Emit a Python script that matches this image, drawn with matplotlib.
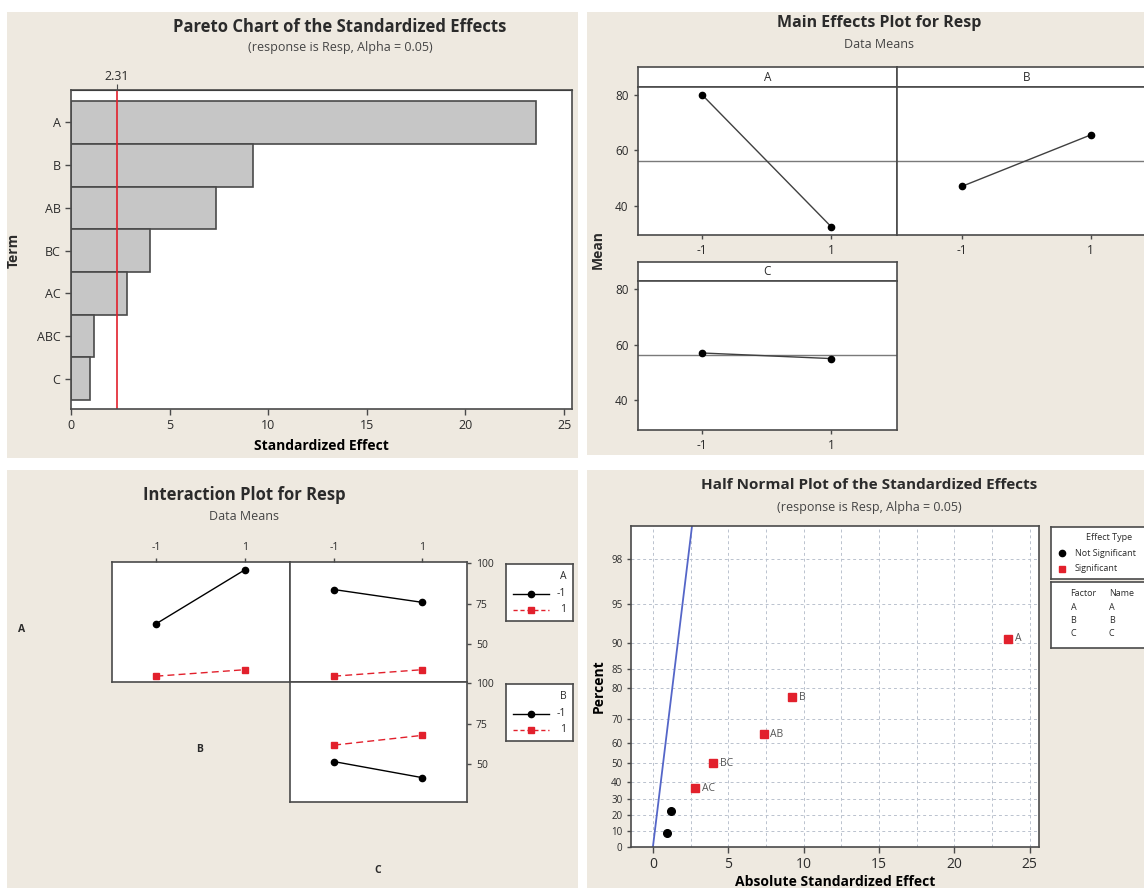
import matplotlib
matplotlib.use("Agg")
import matplotlib.pyplot as plt
from matplotlib.patches import Rectangle
from statistics import NormalDist

W, H = 1144, 888
BG = "#EEE9E0"
INK = "#2B2B2B"
EDGE = "#4A4A4A"
RED = "#E2202C"
BLUE = "#5566C8"

# Pareto chart of standardized effects
terms = ["A", "B", "AB", "BC", "AC", "ABC", "C"]
std_effects = [23.59, 9.24, 7.34, 4.01, 2.82, 1.19, 0.94]
t_crit = 2.31

# Main effects (data means at levels -1 / 1)
factors = ["A", "B", "C"]
levels = [-1, 1]
level_labels = ["-1", "1"]
mean_a = [80.0, 32.4]
mean_b = [46.9, 65.5]
mean_c = [57.0, 55.0]
grand_mean = 56.2

# Interaction means: x factor at -1 / 1, one list per level of the trace factor
ab_a_lo = [62.8, 96.1]
ab_a_hi = [30.4, 34.4]
ac_a_lo = [83.8, 75.9]
ac_a_hi = [30.4, 34.4]
bc_b_lo = [51.7, 41.8]
bc_b_hi = [61.9, 67.9]

# Half normal plot
half_terms = ["C", "ABC", "AC", "BC", "AB", "B", "A"]
half_effects = [0.94, 1.19, 2.82, 4.01, 7.34, 9.24, 23.59]
half_pct = [9.0, 22.7, 36.3, 50.0, 63.6, 77.3, 90.7]
pct_ticks = [0, 10, 20, 30, 40, 50, 60, 70, 80, 85, 90, 95, 98]
fit_slope = 1.0

plt.rcParams["font.family"] = ["Open Sans", "DejaVu Sans"]
plt.rcParams["text.color"] = INK
plt.rcParams["xtick.color"] = EDGE
plt.rcParams["ytick.color"] = EDGE
plt.rcParams["xtick.labelcolor"] = INK
plt.rcParams["ytick.labelcolor"] = INK


def px_axes(fig, x0, y0, x1, y1):
    return fig.add_axes([x0 / W, 1 - y1 / H, (x1 - x0) / W, (y1 - y0) / H])


def px_text(fig, x, y, s, **kw):
    fig.text(x / W, 1 - y / H, s, ha=kw.pop("ha", "center"), va=kw.pop("va", "center"), **kw)


def frame(ax, lw=1.2, color=EDGE):
    for sp in ax.spines.values():
        sp.set_color(color)
        sp.set_linewidth(lw)


def blank(ax):
    ax.set_xlim(0, 1)
    ax.set_ylim(0, 1)
    ax.set_xticks([])
    ax.set_yticks([])
    frame(ax)


def half_z(p):
    return NormalDist().inv_cdf(0.5 + p / 200.0)


fig = plt.figure(figsize=(W / 100, H / 100), dpi=100, facecolor="white")

for x0, y0, x1, y1 in [(7, 12, 578, 458), (587, 12, 1144, 455),
                       (7, 470, 578, 888), (587, 470, 1144, 888)]:
    fig.add_artist(Rectangle((x0 / W, 1 - y1 / H), (x1 - x0) / W, (y1 - y0) / H,
                             transform=fig.transFigure, facecolor=BG,
                             edgecolor="none", zorder=-10))

# ---------------- Pareto chart ----------------
px_text(fig, 340, 27, "Pareto Chart of the Standardized Effects", fontsize=12, fontweight="bold")
px_text(fig, 340, 47, "(response is Resp, Alpha = 0.05)", fontsize=9, color="#444444")
ax = px_axes(fig, 71, 90, 572, 409)
pos = list(range(len(terms) - 1, -1, -1))
ax.barh(pos, std_effects, height=1.0, color="#C6C6C6", edgecolor=EDGE, linewidth=1.2)
ax.axvline(t_crit, color=RED, lw=1.2)
ax.set_xlim(0, 25.4)
ax.set_ylim(-0.71, 6.76)
ax.set_yticks(pos, terms)
ax.set_xticks(range(0, 26, 5))
ax.tick_params(labelsize=9, length=4, width=1)
ax.set_xlabel("Standardized Effect", fontsize=10, fontweight="bold", labelpad=5)
frame(ax)
sec = ax.secondary_xaxis("top")
sec.set_xticks([t_crit], ["2.31"])
sec.tick_params(labelsize=9, length=4, pad=1)
px_text(fig, 14, 250, "Term", fontsize=10, fontweight="bold", rotation=90)

# ---------------- Main effects ----------------
px_text(fig, 879, 23, "Main Effects Plot for Resp", fontsize=11.5, fontweight="bold")
px_text(fig, 879, 44, "Data Means", fontsize=9, color="#444444")
px_text(fig, 598, 250, "Mean", fontsize=10, fontweight="bold", rotation=90)

main_boxes = [("A", mean_a, (637.5, 67, 897, 87, 235), True),
              ("B", mean_b, (897, 67, 1156.5, 87, 235), False),
              ("C", mean_c, (637.5, 262, 897, 281, 430), True)]
for name, means, (x0, ys, x1, y0, y1), show_y in main_boxes:
    strip = px_axes(fig, x0, ys, x1, y0)
    blank(strip)
    strip.text(0.5, 0.5, name, ha="center", va="center", fontsize=8.5)
    a = px_axes(fig, x0, y0, x1, y1)
    a.axhline(grand_mean, color="#7A7A7A", lw=1.0)
    a.plot(levels, means, color="#404040", lw=1.0, marker="o", ms=4.5,
           mfc="black", mec="black")
    a.set_xlim(-2.0, 2.02)
    a.set_ylim(29.4, 82.8)
    a.set_xticks(levels, level_labels)
    a.set_yticks([40, 60, 80] if show_y else [])
    a.tick_params(labelsize=8.5, length=3, width=1)
    frame(a)

# ---------------- Interaction plot ----------------
px_text(fig, 244, 495, "Interaction Plot for Resp", fontsize=12, fontweight="bold")
px_text(fig, 244, 517, "Data Means", fontsize=9, color="#444444")
px_text(fig, 22, 629, "A", fontsize=7.5, fontweight="bold")
px_text(fig, 200, 749, "B", fontsize=7.5, fontweight="bold")
px_text(fig, 378, 870, "C", fontsize=7.5, fontweight="bold")

cells = [((112, 562, 290, 682), ab_a_lo, ab_a_hi, True, False),
         ((290, 562, 467, 682), ac_a_lo, ac_a_hi, True, True),
         ((290, 682, 467, 802), bc_b_lo, bc_b_hi, False, True)]
for (x0, y0, x1, y1), lo, hi, top, right in cells:
    c = px_axes(fig, x0, y0, x1, y1)
    c.plot(levels, lo, color="black", lw=1.0, marker="o", ms=4.5)
    c.plot(levels, hi, color=RED, lw=1.0, ls=(0, (5, 3)), marker="s", ms=4.5)
    c.set_xlim(-2.0, 2.01)
    c.set_ylim(26.8, 100.8)
    c.tick_params(labelsize=7.5, length=3, width=1,
                  bottom=False, labelbottom=False, left=False, labelleft=False,
                  top=top, labeltop=top, right=right, labelright=right)
    c.set_xticks(levels if top else [], level_labels if top else [])
    c.set_yticks([50, 75, 100] if right else [])
    frame(c)

for (y0, y1), title in [((564, 621), "A"), ((684, 741), "B")]:
    lg = px_axes(fig, 506, y0, 573, y1)
    blank(lg)
    lg.text(0.9, 0.78, title, ha="right", va="center", fontsize=7.5)
    lg.plot([0.1, 0.37, 0.64], [0.48] * 3, color="black", lw=1.0, marker="o", ms=4.5, markevery=[1])
    lg.plot([0.1, 0.37, 0.64], [0.2] * 3, color=RED, lw=1.0, ls=(0, (3, 2)), marker="s", ms=5, markevery=[1])
    lg.text(0.9, 0.48, "-1", ha="right", va="center", fontsize=7.5)
    lg.text(0.9, 0.2, "1", ha="right", va="center", fontsize=7.5)

# ---------------- Half normal plot ----------------
px_text(fig, 869, 485, "Half Normal Plot of the Standardized Effects", fontsize=11, fontweight="bold")
px_text(fig, 869, 507, "(response is Resp, Alpha = 0.05)", fontsize=9, color="#444444")
hn = px_axes(fig, 631.4, 525.7, 1038.6, 846.7)
z_pts = [half_z(p) for p in half_pct]
z_top = 2.596
hn.plot([0, fit_slope * z_top], [0, z_top], color=BLUE, lw=1.3, zorder=2)
for t, e, z in zip(half_terms, half_effects, z_pts):
    if e > t_crit:
        hn.plot(e, z, marker="s", ms=6, color=RED, ls="none", zorder=3)
        hn.annotate(t, (e, z), xytext=(5, 0), textcoords="offset points",
                    va="center", ha="left", fontsize=7.5, color="#555555")
    else:
        hn.plot(e, z, marker="o", ms=5.5, color="black", ls="none", zorder=3)
hn.set_xlim(-1.43, 25.6)
hn.set_ylim(0, z_top)
hn.set_xticks(range(0, 26, 5))
hn.set_xticks([2.5, 7.5, 12.5, 17.5, 22.5], minor=True)
hn.set_yticks([half_z(p) for p in pct_ticks], [str(p) for p in pct_ticks])
hn.tick_params(axis="y", labelsize=7, length=3, width=1)
hn.tick_params(axis="x", labelsize=10, length=4, width=1)
hn.tick_params(axis="x", which="minor", length=0)
hn.grid(True, which="both", ls=(0, (3, 3)), color="#BAC2CE", lw=0.7, zorder=0)
hn.set_axisbelow(True)
hn.set_xlabel("Absolute Standardized Effect", fontsize=10, fontweight="bold", labelpad=2)
hn.set_ylabel("Percent", fontsize=10, fontweight="bold", labelpad=4)
frame(hn)

eff = px_axes(fig, 1051, 527, 1160, 579)
blank(eff)
eff.text(0.32, 0.8, "Effect Type", fontsize=6.5, va="center")
eff.plot([0.1], [0.5], marker="o", ms=4.5, color="black")
eff.text(0.22, 0.5, "Not Significant", fontsize=6.5, va="center")
eff.plot([0.1], [0.2], marker="s", ms=4.5, color=RED)
eff.text(0.22, 0.2, "Significant", fontsize=6.5, va="center")

fac = px_axes(fig, 1051, 582, 1160, 648)
blank(fac)
fac.text(0.18, 0.83, "Factor", fontsize=6.5, va="center")
fac.text(0.53, 0.83, "Name", fontsize=6.5, va="center")
for i, f in enumerate(factors):
    fac.text(0.18, 0.62 - i * 0.2, f, fontsize=6.5, va="center")
    fac.text(0.53, 0.62 - i * 0.2, f, fontsize=6.5, va="center")

fig.savefig("out.png", dpi=100, facecolor="white")
